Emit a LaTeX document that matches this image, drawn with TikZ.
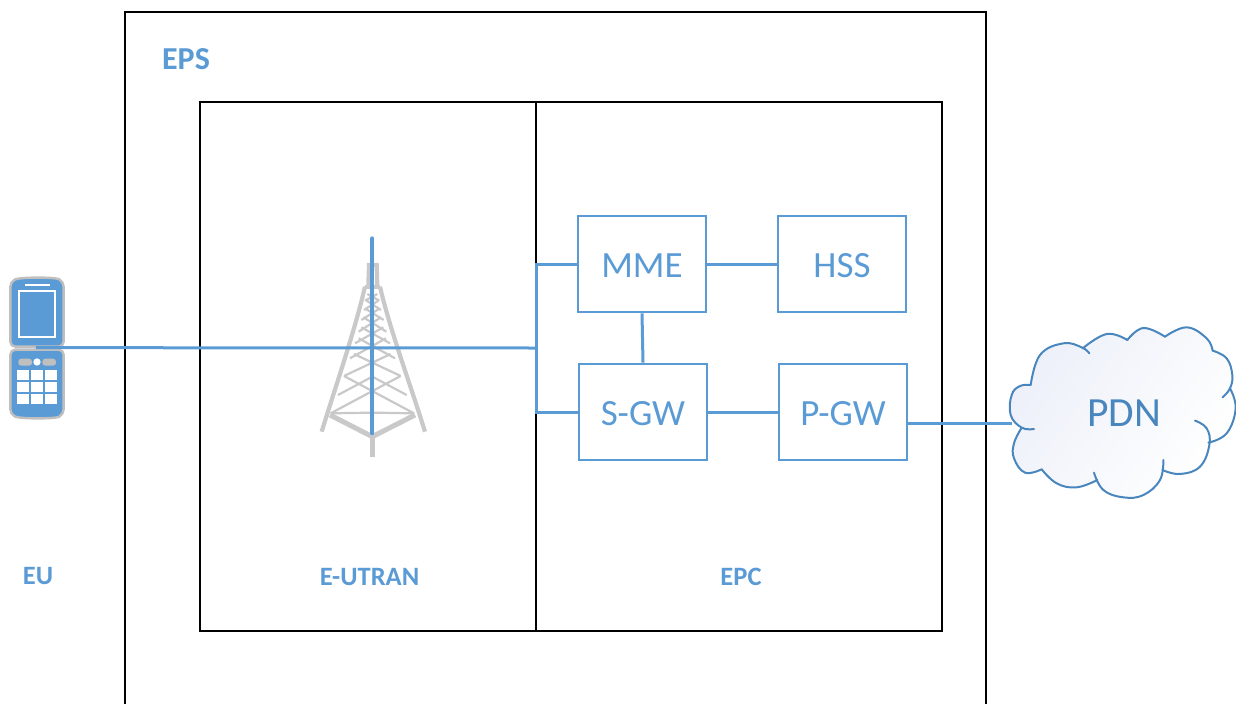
\documentclass[tikz,border=0pt]{standalone}
\usepackage{fontspec}
\setmainfont{Carlito}
\definecolor{lblue}{HTML}{5B9BD5}
\definecolor{cblue}{HTML}{4A86BE}
\definecolor{tgrey}{HTML}{C9C9C9}
\definecolor{pgrey}{HTML}{BFBFBF}
\definecolor{cfill}{HTML}{EDF0F9}
\tikzset{
  netbox/.style={draw=lblue,line width=2.6pt,minimum width=128pt,minimum height=96pt,inner sep=0pt,text=lblue,font=\fontsize{37}{37}\selectfont,text height=26pt,text depth=0pt},
  frame/.style={draw=black,line width=2.2pt,inner sep=0pt},
  link/.style={draw=lblue,line width=3pt},
  lbl/.style={text=lblue,font=\fontsize{26.5}{26.5}\selectfont\bfseries,inner sep=0pt},
  tleg/.style={draw=tgrey,line width=4.2pt},
  tbrace/.style={draw=tgrey,line width=2.2pt},
  lobe/.style={draw=cblue,line width=2pt,line cap=round},
  key/.style={fill=white,draw=none}
}
\begin{document}
\begin{tikzpicture}[x=1pt,y=-1pt]
\useasboundingbox (0,0) rectangle (1236,704);
% outer frame (runs off the bottom edge)
\draw[draw=black,line width=2.2pt] (125,704) -- (125,12) -- (986,12) -- (986,704);
% inner frames
\node[frame,minimum width=336pt,minimum height=529pt] (eutran) at (368,366.5) {};
\node[frame,minimum width=406pt,minimum height=529pt] (epc) at (739,366.5) {};
% labels
\node[lbl,font=\fontsize{32}{32}\selectfont\bfseries] (epslbl) at (186,59) {EPS};
\node[lbl] (eulbl) at (38,576) {EU};
\node[lbl] (eutranlbl) at (369.5,577) {E-UTRAN};
\node[lbl] (epclbl) at (741,577) {EPC};
% boxes
\node[netbox] (mme) at (642,264) {MME};
\node[netbox] (hss) at (842,264) {HSS};
\node[netbox] (sgw) at (643,412) {S-GW};
\node[netbox] (pgw) at (843,412) {P-GW};
% tower (grey)
\begin{scope}[shift={(300,230)},x=0.3333pt,y=-0.3333pt]
  \draw[tleg] (65,605) .. controls (110,460) and (165,300) .. (195,170);
  \draw[tleg] (375,605) .. controls (330,460) and (270,300) .. (240,170);
  \draw[tleg] (195,170) -- (240,170);
  \draw[tleg] (205,170) -- (207,105) -- (230,105) -- (232,170);
  \draw[tleg,line width=5pt] (90,555) -- (217,620) -- (345,555);
  \draw[tleg,line width=5pt] (217,620) -- (217,680);
  \draw[tbrace] (92,550) -- (302,438) (342,550) -- (132,438);
  \draw[tbrace] (92,550) -- (217,548) -- (342,550);
  \draw[tbrace] (132,438) -- (272,372) (302,438) -- (162,372);
  \draw[tbrace] (114,495) -- (217,440) -- (320,495);
  \draw[tbrace] (150,385) -- (258,325) (285,385) -- (176,325);
  \draw[tbrace] (165,340) -- (250,292) (270,340) -- (184,292);
  \draw[tbrace] (176,305) -- (243,262) (259,305) -- (190,262);
  \draw[tbrace] (184,270) -- (238,236) (251,270) -- (196,236);
  \draw[tbrace] (192,240) -- (235,212) (243,240) -- (200,212);
  \draw[tbrace] (195,212) -- (232,192) (238,212) -- (202,192);
  \coordinate (masttop) at (217,25);
  \coordinate (mastbot) at (217,610);
\end{scope}
% phone
\begin{scope}[shift={(0,265)},x=0.3333pt,y=-0.3333pt]
  \draw[fill=lblue,draw=pgrey,line width=2.4pt,rounded corners=5pt] (31,50) .. controls (60,36) and (165,36) .. (191,50) -- (191,245) -- (31,245) -- cycle;
  \draw[fill=lblue,draw=pgrey,line width=2.4pt,rounded corners=5pt] (31,254) -- (191,254) -- (191,448) .. controls (165,462) and (60,462) .. (31,448) -- cycle;
  \draw[white,line width=2.2pt] (57,77) rectangle (165,215);
  \fill[key] (75,57) rectangle (150,64);
  \fill[pgrey,rounded corners=3pt] (55,281) rectangle (96,302);
  \fill[pgrey,rounded corners=3pt] (127,281) rectangle (168,302);
  \fill[key] (111,291) circle (11);
  \foreach \ky in {315,351,388}{
    \foreach \kx in {52,93,134}{
      \fill[key] (\kx,\ky) rectangle ++(36,30);
    }
  }
  \coordinate (phone) at (108,248);
\end{scope}
% cloud
\begin{scope}[shift={(1000,320)},x=0.3333pt,y=-0.3333pt]
  \path[left color=cfill,right color=white,shading angle=55]
    plot[smooth,tension=0.7] coordinates {(92,195) (120,105) (190,70) (248,85)}
    -- plot[smooth,tension=0.7] coordinates {(248,85) (320,42) (382,60)}
    -- plot[smooth,tension=0.7] coordinates {(382,60) (430,24) (495,50)}
    -- plot[smooth,tension=0.7] coordinates {(495,50) (560,22) (620,55) (638,92)}
    -- plot[smooth,tension=0.7] coordinates {(638,92) (680,115) (697,165) (690,205)}
    -- plot[smooth,tension=0.7] coordinates {(690,205) (707,265) (680,340) (625,368)}
    -- plot[smooth,tension=0.7] coordinates {(625,368) (600,440) (540,462) (487,450)}
    -- plot[smooth,tension=0.7] coordinates {(487,450) (455,515) (380,532) (320,510) (290,480)}
    -- plot[smooth,tension=0.7] coordinates {(290,480) (230,502) (170,490) (125,448)}
    -- plot[smooth,tension=0.7] coordinates {(125,448) (75,458) (42,415) (42,370) (65,323)}
    -- plot[smooth,tension=0.7] coordinates {(65,323) (32,285) (35,225) (60,198) (92,195)} -- cycle;
  \draw[lobe] plot[smooth,tension=0.7] coordinates {(92,195) (120,105) (190,70) (245,82) (268,100)};
  \draw[lobe] plot[smooth,tension=0.7] coordinates {(248,85) (320,42) (382,60)};
  \draw[lobe] plot[smooth,tension=0.7] coordinates {(382,60) (430,24) (495,50)};
  \draw[lobe] plot[smooth,tension=0.7] coordinates {(495,50) (560,22) (620,55) (638,92)};
  \draw[lobe] plot[smooth,tension=0.7] coordinates {(638,92) (680,115) (697,165) (690,205) (668,232)};
  \draw[lobe] plot[smooth,tension=0.7] coordinates {(690,205) (707,265) (680,340) (625,368)};
  \draw[lobe] plot[smooth,tension=0.7] coordinates {(585,302) (620,325) (628,375) (600,440) (540,462) (487,450)};
  \draw[lobe] plot[smooth,tension=0.7] coordinates {(490,420) (480,480) (430,525) (370,532) (310,510) (282,458)};
  \draw[lobe] plot[smooth,tension=0.7] coordinates {(292,480) (230,502) (170,490) (125,448)};
  \draw[lobe] plot[smooth,tension=0.7] coordinates {(125,448) (75,458) (42,415) (42,370) (65,323)};
  \draw[lobe] plot[smooth,tension=0.7] coordinates {(102,327) (65,323) (32,285) (35,225) (60,198) (92,195)};
\end{scope}
\node[text=cblue,font=\fontsize{41.5}{41.5}\selectfont,inner sep=0pt] (pdn) at (1124,413.5) {PDN};
\coordinate (cloudw) at (1012,423);
% connectors
\coordinate (bus) at (536,348);
\draw[link] (phone) -- (bus);
\draw[link,line cap=round,line width=4pt] (masttop) -- (mastbot);
\draw[link] (mme.west) -| (bus);
\draw[link] (sgw.west) -| (bus);
\draw[link] (mme.east) -- (hss.west);
\draw[link] (sgw.east) -- (pgw.west);
\draw[link] (mme.south) -- (sgw.north);
\draw[link] (pgw.east |- cloudw) -- (cloudw);
\end{tikzpicture}
\end{document}
